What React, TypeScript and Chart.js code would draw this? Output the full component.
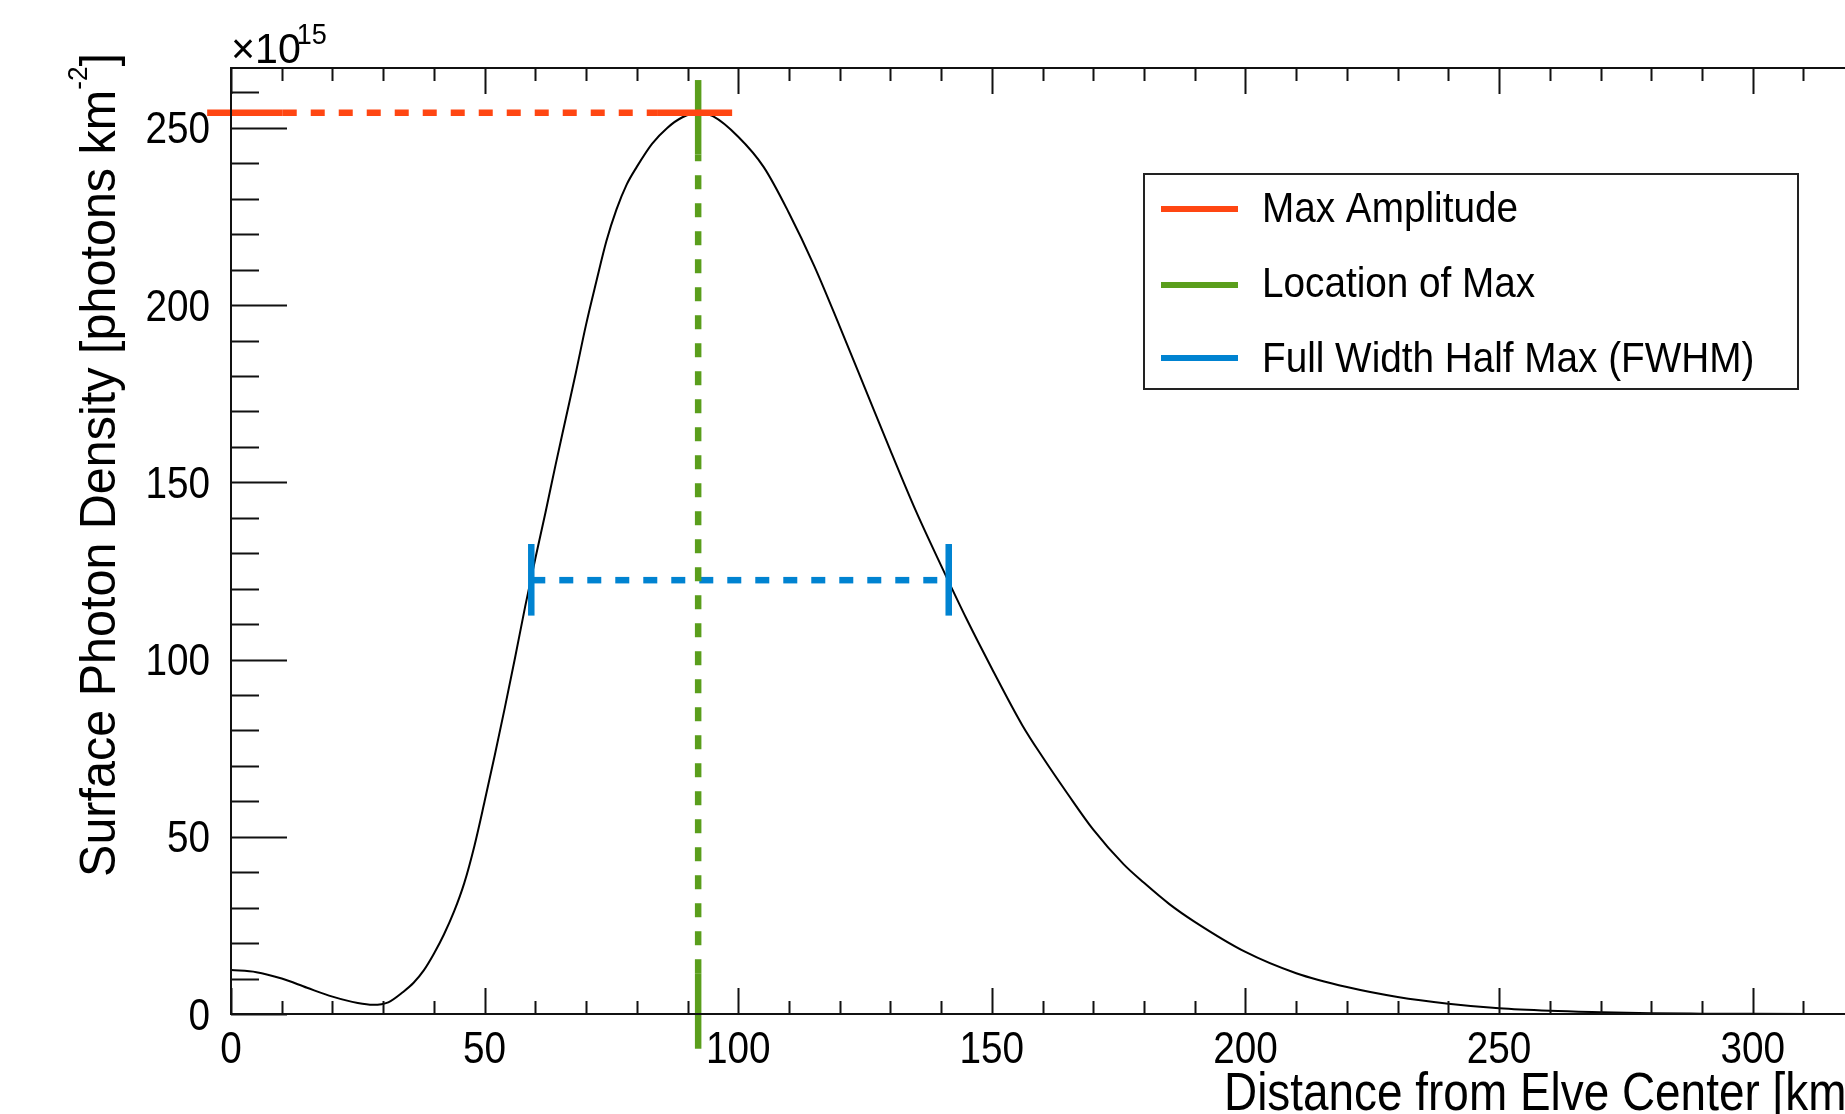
import React, { useEffect, useRef } from 'react';
import { Chart, registerables } from 'chart.js';

Chart.register(...registerables);

// ---- data ----
const distanceKm = [
  0, 5, 10, 15, 20, 25, 28, 31, 34, 36, 38, 40, 42, 44, 46, 48, 50, 52, 54, 56,
  58, 60, 62, 64, 66, 68, 70, 72, 74, 76, 78, 80, 83, 86, 89,
  92.1, 95, 100, 105, 110, 115, 120, 125, 130, 135, 140, 145, 150, 156, 160, 165, 170,
  176, 180, 185, 190, 200, 210, 220, 230, 240, 250, 260, 270, 280, 290, 300, 318,
];
const photonDensity = [
  12.4, 11.8, 10.0, 7.4, 4.9, 3.1, 2.6, 3.3, 6.3, 8.8, 12.3, 17, 22.5, 29, 37, 47.5, 60, 73, 86.5, 100.5,
  115, 128.5, 141.5, 155, 168, 181, 194.5, 206.5, 218, 227, 234, 239, 245.5, 250, 253,
  254.3, 253.3, 247.5, 239, 226, 211, 194, 176.5, 159, 142, 126.5, 111.5, 97.5, 81.5, 72.5, 62, 52,
  42.2, 37, 31, 26, 17.5, 11.5, 7.6, 4.8, 2.9, 1.6, 0.9, 0.5, 0.2, 0.1, 0.05, 0,
];

const xTickValues = [0, 50, 100, 150, 200, 250, 300];
const yTickValues = [0, 50, 100, 150, 200, 250];
const xRange = [0, 318.2];
const yRange = [0, 266.9];

const maxAmplitude = 254.3;
const peakLocation = 92.1;
const maxAmpDashX = [10.2, 84];
const maxAmpCapLeftX = [-4.7, 10.2];
const maxAmpCapRightX = [84, 98.8];
const locDashY = [11.5, 242.5];
const locCapTopY = [242.5, 263.5];
const locCapBottomY = [-9.8, 11.5];
const fwhmLevel = 122.4;
const fwhmX = [59.2, 141.5];
const fwhmCapY = [112.4, 132.6];

const legendLabels = ['Max Amplitude', 'Location of Max', 'Full Width Half Max (FWHM)'];
const yTitleMain = 'Surface Photon Density [photons km';
const yTitleSup = '-2';
const yTitleEnd = ']';
const xTitle = 'Distance from Elve Center [km]';
const expBase = '\u00d710';
const expSup = '15';

const ORANGE = '#ff4612';
const GREEN = '#5a9e1c';
const BLUE = '#0083d1';
const FONT = '"Liberation Sans", Arial, sans-serif';

function hSeg(xs: number[], y: number) {
  return xs.map((x) => ({ x, y }));
}
function vSeg(x: number, ys: number[]) {
  return ys.map((y) => ({ x, y }));
}

function drawText(ctx: CanvasRenderingContext2D, text: string, x: number, y: number, size: number, sx: number, align: CanvasTextAlign = 'left') {
  ctx.save();
  ctx.translate(x, y);
  ctx.scale(sx, 1);
  ctx.font = `${size}px ${FONT}`;
  ctx.textAlign = align;
  ctx.textBaseline = 'alphabetic';
  ctx.fillStyle = '#000';
  ctx.fillText(text, 0, 0);
  const w = ctx.measureText(text).width * sx;
  ctx.restore();
  return w;
}

const rootStyle = {
  id: 'rootStyle',
  afterDatasetsDraw(chart: any) {
    const ctx: CanvasRenderingContext2D = chart.ctx;
    const { left, top, right, bottom } = chart.chartArea;
    const xs = chart.scales.x;
    const ys = chart.scales.y;
    ctx.save();
    ctx.strokeStyle = '#111';
    ctx.lineWidth = 2;
    ctx.beginPath();
    for (let v = 0; v <= xRange[1]; v += 10) {
      const px = Math.round(xs.getPixelForValue(v)) + 0.5;
      const len = v % 50 === 0 ? 26 : 13;
      ctx.moveTo(px, bottom);
      ctx.lineTo(px, bottom - len);
      ctx.moveTo(px, top);
      ctx.lineTo(px, top + len);
    }
    for (let v = 0; v <= yRange[1]; v += 10) {
      const py = Math.round(ys.getPixelForValue(v)) + 0.5;
      const len = v % 50 === 0 ? 56 : 28;
      ctx.moveTo(left, py);
      ctx.lineTo(left + len, py);
    }
    ctx.stroke();
    ctx.beginPath();
    ctx.moveTo(right + 5, top);
    ctx.lineTo(left, top);
    ctx.lineTo(left, bottom);
    ctx.lineTo(right + 5, bottom);
    ctx.stroke();
    ctx.restore();
  },
  afterDraw(chart: any) {
    const ctx: CanvasRenderingContext2D = chart.ctx;
    const xs = chart.scales.x;
    const ys = chart.scales.y;

    // tick labels, from the scales' own ticks
    xs.ticks.forEach((t: any) => {
      drawText(ctx, String(t.value), xs.getPixelForValue(t.value), 1063, 44, 0.88, 'center');
    });
    ys.ticks.forEach((t: any) => {
      drawText(ctx, String(t.value), 210, ys.getPixelForValue(t.value) + 15.5, 44, 0.88, 'right');
    });

    // exponent
    const wb = drawText(ctx, expBase, 231, 63, 42, 0.98);
    drawText(ctx, expSup, 231 + wb - 4, 44, 30, 0.9);

    // x title
    drawText(ctx, xTitle, 1224, 1110, 54, 0.85);

    // y title (rotated)
    {
      const F = 50;
      const FS = 27;
      const sx = 0.97;
      ctx.save();
      ctx.translate(115, 53);
      ctx.rotate(-Math.PI / 2);
      ctx.scale(sx, 1);
      ctx.fillStyle = '#000';
      ctx.textBaseline = 'alphabetic';
      ctx.textAlign = 'left';
      ctx.font = `${F}px ${FONT}`;
      const w1 = ctx.measureText(yTitleMain).width;
      const w3 = ctx.measureText(yTitleEnd).width;
      ctx.font = `${FS}px ${FONT}`;
      const w2 = ctx.measureText(yTitleSup).width;
      const W = w1 + w2 + w3;
      ctx.font = `${F}px ${FONT}`;
      ctx.fillText(yTitleMain, -W, 0);
      ctx.fillText(yTitleEnd, -W + w1 + w2, 0);
      ctx.font = `${FS}px ${FONT}`;
      ctx.fillText(yTitleSup, -W + w1, -28);
      ctx.restore();
    }

    // legend
    const colors = [ORANGE, GREEN, BLUE];
    const lineY = [209, 285, 358];
    const textY = [222, 297, 372];
    ctx.save();
    ctx.fillStyle = '#fff';
    ctx.fillRect(1144, 174, 654, 215);
    ctx.strokeStyle = '#222';
    ctx.lineWidth = 2;
    ctx.strokeRect(1144, 174, 654, 215);
    ctx.lineWidth = 6;
    legendLabels.forEach((lab, i) => {
      ctx.strokeStyle = colors[i];
      ctx.beginPath();
      ctx.moveTo(1161, lineY[i]);
      ctx.lineTo(1238, lineY[i]);
      ctx.stroke();
      drawText(ctx, lab, 1262, textY[i], 43, 0.9);
    });
    ctx.restore();
  },
};

export default function App() {
  const ref = useRef<HTMLCanvasElement | null>(null);
  useEffect(() => {
    if (!ref.current) return;
    const mk = (data: any[], color: string, dashed: boolean, width = 6.5) => ({
      data,
      borderColor: color,
      backgroundColor: color,
      borderWidth: width,
      borderDash: dashed ? [14, 14] : [],
      pointRadius: 0,
      pointHoverRadius: 0,
      fill: false,
      tension: 0,
      clip: false as any,
    });
    const chart = new Chart(ref.current, {
      type: 'line',
      data: {
        datasets: [
          { label: legendLabels[0] + ' cap L', ...mk(hSeg(maxAmpCapLeftX, maxAmplitude), ORANGE, false) },
          { label: legendLabels[0] + ' cap R', ...mk(hSeg(maxAmpCapRightX, maxAmplitude), ORANGE, false) },
          { label: legendLabels[0], ...mk(hSeg(maxAmpDashX, maxAmplitude), ORANGE, true) },
          { label: legendLabels[1] + ' cap T', ...mk(vSeg(peakLocation, locCapTopY), GREEN, false) },
          { label: legendLabels[1] + ' cap B', ...mk(vSeg(peakLocation, locCapBottomY), GREEN, false) },
          { label: legendLabels[1], ...mk(vSeg(peakLocation, locDashY), GREEN, true) },
          { label: legendLabels[2] + ' cap L', ...mk(vSeg(fwhmX[0], fwhmCapY), BLUE, false) },
          { label: legendLabels[2] + ' cap R', ...mk(vSeg(fwhmX[1], fwhmCapY), BLUE, false) },
          { label: legendLabels[2], ...mk(hSeg(fwhmX, fwhmLevel), BLUE, true) },
          {
            label: 'Surface photon density',
            data: distanceKm.map((x, i) => ({ x, y: photonDensity[i] })),
            borderColor: '#000',
            backgroundColor: '#000',
            borderWidth: 2,
            pointRadius: 0,
            fill: false,
            cubicInterpolationMode: 'monotone',
          } as any,
        ],
      },
      options: {
        animation: false,
        responsive: false,
        devicePixelRatio: 1,
        events: [],
        layout: { padding: { top: 68, left: 0, right: 0, bottom: 0 } },
        plugins: { legend: { display: false }, tooltip: { enabled: false }, title: { display: false } },
        scales: {
          x: {
            type: 'linear',
            min: xRange[0],
            max: xRange[1],
            grid: { display: false, drawTicks: false },
            border: { display: false },
            ticks: { display: false, autoSkip: false },
            afterBuildTicks: (s: any) => {
              s.ticks = xTickValues.map((v) => ({ value: v }));
            },
            afterFit: (s: any) => {
              s.height = 100;
            },
          },
          y: {
            type: 'linear',
            min: yRange[0],
            max: yRange[1],
            grid: { display: false, drawTicks: false },
            border: { display: false },
            ticks: { display: false, autoSkip: false },
            afterBuildTicks: (s: any) => {
              s.ticks = yTickValues.map((v) => ({ value: v }));
            },
            afterFit: (s: any) => {
              s.width = 231;
            },
          },
        },
      },
      plugins: [rootStyle],
    });
    return () => chart.destroy();
  }, []);

  return (
    <div style={{ position: 'absolute', left: 0, top: 0, width: 1845, height: 1114, background: '#fff', overflow: 'hidden' }}>
      <canvas ref={ref} width={1845} height={1114} style={{ display: 'block', width: 1845, height: 1114 }} />
    </div>
  );
}
